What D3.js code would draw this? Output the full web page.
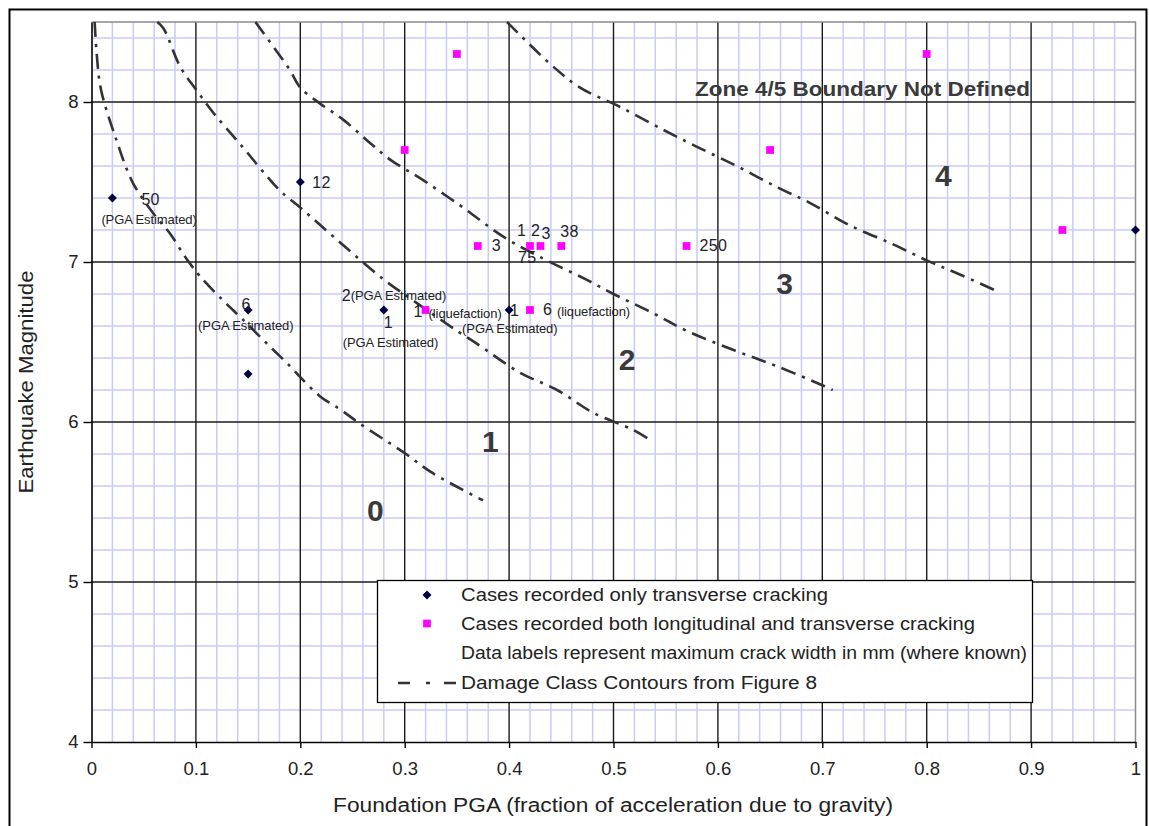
<!DOCTYPE html>
<html>
<head>
<meta charset="utf-8">
<script src="https://cdn.jsdelivr.net/npm/d3@7"></script>
<style>
  html, body { margin: 0; padding: 0; background: #fff; }
  svg { display: block; font-family: "Liberation Sans", Arial, sans-serif; }
</style>
</head>
<body>
<svg id="chart" width="1149" height="826"></svg>
<script>
// ---------------- DATA ----------------
const xTickValues = [0, 0.1, 0.2, 0.3, 0.4, 0.5, 0.6, 0.7, 0.8, 0.9, 1];
const xTickLabels = ["0", "0.1", "0.2", "0.3", "0.4", "0.5", "0.6", "0.7", "0.8", "0.9", "1"];
const yTickValues = [4, 5, 6, 7, 8];
const yTickLabels = ["4", "5", "6", "7", "8"];

// Cases recorded only transverse cracking (diamonds)
const transverseX = [0.02, 0.20, 0.15, 0.15, 0.28, 0.40, 1.00];
const transverseY = [7.40, 7.50, 6.70, 6.30, 6.70, 6.70, 7.20];

// Cases recorded both longitudinal and transverse cracking (squares)
const bothX = [0.35, 0.30, 0.80, 0.65, 0.93, 0.37, 0.42, 0.43, 0.45, 0.57, 0.32, 0.42];
const bothY = [8.30, 7.70, 8.30, 7.70, 7.20, 7.10, 7.10, 7.10, 7.10, 7.10, 6.70, 6.70];

// Data labels: [series, point index, text]
const pointLabels = [
  ["t", 0, "50"], ["t", 0, "(PGA Estimated)"],
  ["t", 1, "12"],
  ["t", 2, "6"], ["t", 2, "(PGA Estimated)"],
  ["t", 4, "2"], ["t", 4, "(PGA Estimated)"], ["t", 4, "1"], ["t", 4, "(PGA Estimated)"],
  ["t", 5, "1"], ["t", 5, "(PGA Estimated)"],
  ["b", 5, "3"],
  ["b", 6, "1 2"], ["b", 6, "75"],
  ["b", 7, "3"],
  ["b", 8, "38"],
  ["b", 9, "250"],
  ["b", 10, "1"], ["b", 10, "(liquefaction)"],
  ["b", 11, "6"], ["b", 11, "(liquefaction)"]
];

// Damage class contours (dash-dot lines)
const contour0 = [[0.003,8.5],[0.005,8.3],[0.009,8.08],[0.024,7.76],[0.040,7.49],[0.062,7.28],[0.075,7.18],[0.091,7.02],[0.104,6.91],[0.126,6.76],[0.145,6.64],[0.168,6.49],[0.190,6.35],[0.200,6.28],[0.219,6.16],[0.238,6.08],[0.257,5.99],[0.299,5.81],[0.327,5.68],[0.375,5.51]];
const contour1 = [[0.063,8.5],[0.069,8.46],[0.085,8.22],[0.101,8.07],[0.117,7.93],[0.142,7.74],[0.180,7.45],[0.200,7.34],[0.235,7.14],[0.280,6.89],[0.308,6.76],[0.350,6.57],[0.369,6.49],[0.410,6.31],[0.446,6.20],[0.480,6.06],[0.519,5.95],[0.537,5.88]];
const contour2 = [[0.157,8.5],[0.177,8.32],[0.190,8.20],[0.200,8.09],[0.219,7.99],[0.241,7.89],[0.264,7.76],[0.286,7.64],[0.318,7.51],[0.356,7.34],[0.394,7.16],[0.430,7.03],[0.474,6.89],[0.500,6.80],[0.538,6.68],[0.570,6.57],[0.615,6.45],[0.656,6.35],[0.700,6.23],[0.710,6.20]];
const contour3 = [[0.398,8.5],[0.439,8.24],[0.468,8.09],[0.506,7.97],[0.548,7.825],[0.580,7.72],[0.618,7.60],[0.656,7.47],[0.688,7.37],[0.726,7.23],[0.768,7.11],[0.800,7.01],[0.829,6.93],[0.870,6.81]];
const contours = [contour0, contour1, contour2, contour3];

// Damage class zone labels
const zoneNames = ["0", "1", "2", "3", "4"];
const zoneX = [0.272, 0.382, 0.513, 0.664, 0.816];
const zoneY = [5.45, 5.88, 6.39, 6.87, 7.54];

const zoneNote = "Zone 4/5 Boundary Not Defined";
const xTitle = "Foundation PGA (fraction of acceleration due to gravity)";
const yTitle = "Earthquake Magnitude";
const legendTexts = [
  "Cases recorded only transverse cracking",
  "Cases recorded both longitudinal and transverse cracking",
  "Data labels represent maximum crack width in mm (where known)",
  "Damage Class Contours from Figure 8"
];

// ---------------- LAYOUT / STYLE ----------------
const svg = d3.select("#chart");
const W = 1149, H = 826;
const x = d3.scaleLinear().domain([0, 1]).range([91.5, 1135.5]);
const y = d3.scaleLinear().domain([4, 8.5]).range([742, 22]);
const TEXT = "#222";
const DASH = "15,7,3,7";

svg.append("rect").attr("width", W).attr("height", H).attr("fill", "#fff");
// outer frame
svg.append("rect").attr("x", 9.5).attr("y", 9.5).attr("width", 1137).attr("height", 840)
  .attr("fill", "none").attr("stroke", "#000").attr("stroke-width", 2);

const plot = svg.append("g");

// minor grid
const minorX = d3.range(0, 51).map(i => i / 50).filter((d, i) => i % 5 !== 0);
const minorY = d3.range(0, 23).map(i => 4 + i * 0.2).filter((d, i) => i % 5 !== 0);
plot.append("g").selectAll("line").data(minorX).join("line")
  .attr("x1", d => x(d)).attr("x2", d => x(d)).attr("y1", y(8.5)).attr("y2", y(4))
  .attr("stroke", "#cacafa").attr("stroke-width", 1.5);
plot.append("g").selectAll("line").data(minorY).join("line")
  .attr("x1", x(0)).attr("x2", x(1)).attr("y1", d => y(d)).attr("y2", d => y(d))
  .attr("stroke", "#cacafa").attr("stroke-width", 1.5);

// major grid
plot.append("g").selectAll("line").data(xTickValues.slice(1, -1)).join("line")
  .attr("x1", d => x(d)).attr("x2", d => x(d)).attr("y1", y(8.5)).attr("y2", y(4))
  .attr("stroke", "#1a1a1a").attr("stroke-width", 1.4);
plot.append("g").selectAll("line").data(yTickValues.slice(1)).join("line")
  .attr("x1", x(0)).attr("x2", x(1)).attr("y1", d => y(d)).attr("y2", d => y(d))
  .attr("stroke", "#1a1a1a").attr("stroke-width", 1.4);

// plot border top/right (gray)
plot.append("path")
  .attr("d", `M${x(0)},${y(8.5)}H${x(1)}V${y(4)}`)
  .attr("fill", "none").attr("stroke", "#8a8a8a").attr("stroke-width", 1.5);

// axes
const xAxis = d3.axisBottom(x).tickValues(xTickValues)
  .tickFormat((d, i) => xTickLabels[i]).tickSize(6).tickSizeOuter(0).tickPadding(14);
const yAxis = d3.axisLeft(y).tickValues(yTickValues)
  .tickFormat((d, i) => yTickLabels[i]).tickSize(8).tickSizeOuter(0).tickPadding(5);

const gx = svg.append("g").attr("transform", `translate(0,${y(4)})`).call(xAxis);
const gy = svg.append("g").attr("transform", `translate(${x(0)},0)`).call(yAxis);
[gx, gy].forEach(g => {
  g.select(".domain").attr("stroke", "#000").attr("stroke-width", 1.6);
  g.selectAll(".tick line").attr("stroke", "#000").attr("stroke-width", 1.4);
  g.selectAll(".tick text").attr("fill", TEXT).attr("font-size", 18.5)
    .attr("font-family", "'Liberation Sans', Arial, sans-serif");
});

// axis titles
svg.append("text").attr("x", 613).attr("y", 812).attr("text-anchor", "middle")
  .attr("font-size", 20).attr("fill", TEXT)
  .attr("textLength", 560).attr("lengthAdjust", "spacingAndGlyphs").text(xTitle);
svg.append("text").attr("transform", "translate(33,382) rotate(-90)").attr("text-anchor", "middle")
  .attr("font-size", 20).attr("fill", TEXT)
  .attr("textLength", 223).attr("lengthAdjust", "spacingAndGlyphs").text(yTitle);

// contours
const line = d3.line().x(d => x(d[0])).y(d => y(d[1])).curve(d3.curveCatmullRom);
plot.append("g").selectAll("path").data(contours).join("path")
  .attr("d", line).attr("fill", "none").attr("stroke", "#333")
  .attr("stroke-width", 2.6).attr("stroke-dasharray", DASH);

// points
const transverse = transverseX.map((v, i) => ({ x: v, y: transverseY[i] }));
const both = bothX.map((v, i) => ({ x: v, y: bothY[i] }));
const diamond = d3.symbol(d3.symbolSquare, 40)();
const square = d3.symbol(d3.symbolSquare, 60)();

svg.append("g").selectAll("path").data(both).join("path")
  .attr("d", square).attr("fill", "#ff00ff")
  .attr("transform", d => `translate(${x(d.x)},${y(d.y)})`);
svg.append("g").selectAll("path").data(transverse).join("path")
  .attr("d", diamond).attr("fill", "#000040")
  .attr("transform", d => `translate(${x(d.x)},${y(d.y)}) rotate(45)`);

// label offsets (px relative to the point): dx, dy(center), font size, anchor
const labelStyle = [
  [29, 1, 16, "start"], [-11, 21, 13, "start"],
  [12, 0, 16, "start"],
  [-2, -6, 16, "middle"], [-50, 15, 13, "start"],
  [-42, -15, 16, "start"], [-33, -15, 13, "start"], [0, 12, 16, "start"], [-41, 32, 13, "start"],
  [1, 0, 16, "start"], [-47, 18, 13, "start"],
  [14, -1, 16, "start"],
  [-13, -16, 16, "start"], [-12, 11, 16, "start"],
  [1, -13, 16, "start"],
  [-1, -15, 16, "start"],
  [13, -1, 16, "start"],
  [-12, 1, 16, "start"], [3, 3, 13, "start"],
  [13, -1, 16, "start"], [27, 1, 13, "start"]
];
svg.append("g").selectAll("text").data(pointLabels).join("text")
  .attr("x", (d, i) => { const p = (d[0] === "t" ? transverse : both)[d[1]]; return x(p.x) + labelStyle[i][0]; })
  .attr("y", (d, i) => { const p = (d[0] === "t" ? transverse : both)[d[1]]; return y(p.y) + labelStyle[i][1]; })
  .attr("dy", "0.35em")
  .attr("font-size", (d, i) => labelStyle[i][2])
  .attr("text-anchor", (d, i) => labelStyle[i][3])
  .attr("fill", TEXT)
  .attr("letter-spacing", (d, i) => labelStyle[i][2] < 14 ? -0.1 : 0.3)
  .text(d => d[2]);

// zone labels
svg.append("g").selectAll("text").data(zoneNames).join("text")
  .attr("x", (d, i) => x(zoneX[i])).attr("y", (d, i) => y(zoneY[i]))
  .attr("dy", "0.36em").attr("text-anchor", "middle")
  .attr("font-size", 30).attr("font-weight", "bold").attr("fill", "#3a3a3a")
  .text(d => d);

svg.append("text").attr("x", 695).attr("y", 88).attr("dy", "0.36em")
  .attr("font-size", 21).attr("font-weight", "bold").attr("fill", "#3a3a3a")
  .attr("textLength", 335).attr("lengthAdjust", "spacingAndGlyphs").text(zoneNote);

// legend
const lg = svg.append("g");
lg.append("rect").attr("x", 377.5).attr("y", 580.5).attr("width", 655).attr("height", 122)
  .attr("fill", "#fff").attr("stroke", "#000").attr("stroke-width", 1.3);
const rowY = [595, 623.5, 653, 683];
const rowLen = [367, 514, 566, 356];
lg.selectAll("text").data(legendTexts).join("text")
  .attr("x", 461).attr("y", (d, i) => rowY[i]).attr("dy", "0.36em")
  .attr("font-size", 17.5).attr("fill", TEXT)
  .attr("textLength", (d, i) => rowLen[i]).attr("lengthAdjust", "spacingAndGlyphs")
  .text(d => d);
lg.append("path").attr("d", diamond).attr("fill", "#000040")
  .attr("transform", `translate(427,${rowY[0]}) rotate(45)`);
lg.append("path").attr("d", square).attr("fill", "#ff00ff")
  .attr("transform", `translate(427,${rowY[1]})`);
lg.append("line").attr("x1", 398).attr("x2", 457).attr("y1", rowY[3]).attr("y2", rowY[3])
  .attr("stroke", "#333").attr("stroke-width", 2.6).attr("stroke-dasharray", "12,16,4,14");
</script>
</body>
</html>
